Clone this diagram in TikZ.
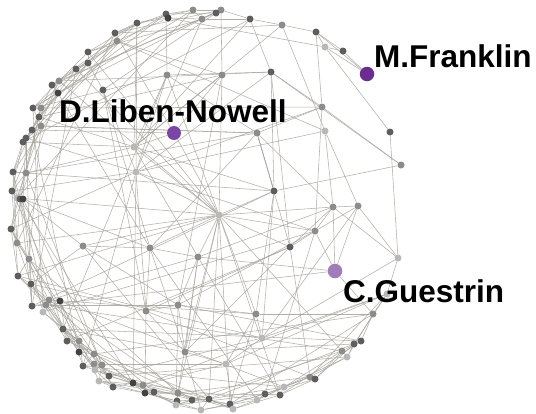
\documentclass[tikz,border=0pt]{standalone}
\usepackage{fontspec}
\setmainfont{Liberation Sans}
\pgfdeclarelayer{bg}
\pgfsetlayers{bg,main}
\definecolor{nd}{HTML}{5E5E5E}
\definecolor{nm}{HTML}{8C8C8C}
\definecolor{nl}{HTML}{B8B8B8}
\definecolor{nk}{HTML}{424242}
\definecolor{edgec}{HTML}{A6A29A}
\definecolor{pfr}{HTML}{6B2D90}
\definecolor{plib}{HTML}{7A46A3}
\definecolor{pgue}{HTML}{A07CBB}
\tikzset{
  dot/.style={circle,inner sep=0pt,minimum size=7pt,draw=none},
  bigdot/.style={circle,inner sep=0pt,minimum size=14.5pt,draw=none},
  edge/.style={draw=edgec,line width=0.55pt,opacity=0.85},
  lbl/.style={inner sep=0pt,anchor=base west,font=\bfseries\fontsize{31.5}{36}\selectfont,text=black}
}
\begin{document}
\begin{tikzpicture}[x=1pt,y=-1pt]
\useasboundingbox (0,0) rectangle (536,413);
% rim nodes
\foreach \n/\x/\y/\c in {1/250/19/nd,2/221/10/nm,3/216/13/nd,4/202/19/nm,5/193/10/nm,6/166/14/nd,7/168/18/nk,8/137/23/nd,9/115/33/nd,10/117/41/nm,
11/88/52/nd,12/88/63/nd,13/76/69/nd,14/59/81/nm,15/52/85/nd,16/58/93/nk,17/33/108/nd,18/41/108/nm,19/39/117/nd,20/41/126/nm,
21/32/130/nd,22/26/138/nd,23/23/142/nd,24/13/172/nd,25/26/173/nm,26/12/191/nd,27/17/198/nl,28/20/199/nd,29/23/199/nk,30/11/229/nd,
31/17/243/nm,32/29/259/nm,33/18/276/nd,34/31/284/nd,35/32/306/nd,36/46/305/nm,37/49/300/nm,38/60/301/nk,39/43/312/nl,40/63/329/nd,
41/67/341/nd,42/79/341/nm,43/79/352/nk,44/94/354/nm,45/83/366/nd,46/94/364/nm,47/102/365/nm,48/95/370/nl,49/109/376/nd,50/99/381/nl,
51/113/387/nd,52/133/383/nk,53/143/385/nm,54/145/393/nk,55/154/392/nd,56/178/393/nm,57/177/401/nd,58/176/405/nl,59/192/400/nd,60/209/399/nd,
61/201/410/nl,62/230/404/nd,63/233/409/nl,64/257/400/nl,65/265/394/nd,66/280/395/nd,67/284/387/nl,68/310/377/nm,69/315/379/nd,70/342/351/nm,
71/347/357/nl,72/354/344/nd,73/361/341/nd,74/373/314/nm,75/387/294/nl,76/398/258/nl,77/401/165/nm,78/390/132/nd,80/343/51/nd,81/325/47/nl,
82/316/32/nd,83/282/25/nm}
  \node[dot,fill=\c] (r\n) at (\x,\y) {};
% interior nodes
\foreach \n/\x/\y/\c in {1/271/72/nd,2/222/75/nm,3/167/75/nm,4/103/90/nd,6/257/133/nm,7/134/147/nl,8/136/172/nl,9/322/107/nm,10/325/131/nl,
11/274/191/nd,12/219/215/nl,13/333/207/nm,14/358/206/nm,15/315/231/nm,16/290/247/nd,18/83/246/nm,19/150/248/nm,20/198/257/nm,
21/146/311/nm,22/178/305/nm,23/256/314/nm,24/262/338/nl,25/185/352/nm,26/226/364/nl}
  \node[dot,fill=\c] (c\n) at (\x,\y) {};
\node[bigdot,fill=pfr] (fr) at (367,74) {};
\node[bigdot,minimum size=14pt,fill=plib] (lib) at (174,133) {};
\node[bigdot,fill=pgue] (gue) at (335,271) {};
\begin{pgfonlayer}{bg}
% rim band
\foreach \i in {1,...,74}{
  \foreach \h in {1,3}{
    \pgfmathtruncatemacro\j{\i+\h}
    \ifnum\j<76 \draw[edge] (r\i) -- (r\j);\fi
  }
  \pgfmathtruncatemacro\m{mod(\i,2)}
  \ifnum\m=0
    \foreach \h in {7,12}{
      \pgfmathtruncatemacro\j{\i+\h}
      \ifnum\j<76 \draw[edge] (r\i) -- (r\j);\fi
    }
  \fi
  \pgfmathtruncatemacro\q{mod(\i,4)}
  \ifnum\q=1
    \pgfmathtruncatemacro\j{\i+22}
    \ifnum\j<76 \draw[edge] (r\i) -- (r\j);\fi
  \fi
}
% right side, top right and interior
\foreach \a/\b in {fr/r80,fr/r81,fr/r82,r80/r82,r80/r81,r81/r82,r81/r78,r82/r83,r83/r9,r7/r81,r83/r1,r78/r76,r77/c11,r76/r75,
  c1/r1,c1/c9,c1/r77,c1/c8,c1/c11,c1/c16,c1/c3,c1/r14,
  c2/r19,c2/lib,c2/c12,c2/c22,c2/r2,c2/c7,
  c3/r6,c3/c7,c3/c8,c3/r17,c3/c12,c3/r40,
  c4/r12,c4/c8,c4/c19,c4/r3,c4/c21,
  lib/r21,lib/c7,lib/c12,lib/r9,
  c6/r20,c6/c11,c6/c16,c6/c13,c6/c3,c6/r25,c6/c19,
  c7/r8,c7/r1,c7/r25,c7/c12,c7/r23,c7/c20,c7/r83,
  c8/r8,c8/c21,c8/c12,c8/r30,c8/r26,c8/c15,c8/r52,c8/r45,
  c9/r82,c9/c6,c9/r18,c9/c8,c9/c15,c9/r77,
  c10/c13,c10/c14,c10/c8,c10/r10,c10/r83,
  c11/c12,c11/r35,c11/c6,c11/c23,c11/r24,c11/c24,
  c12/r11,c12/r27,c12/r33,c12/r31,c12/c13,c12/c15,c12/c16,c12/c19,c12/c20,c12/c23,c12/c25,c12/r56,c12/r60,c12/r62,c12/r66,c12/r70,c12/c18,c12/r14,
  c13/c14,c13/c15,c13/gue,c13/r76,c13/c16,c13/c20,
  c14/gue,c14/r76,c14/c24,c14/c15,
  c15/c16,c15/c22,c15/r39,c15/gue,c15/r65,
  c16/c21,c16/r41,c16/c25,c16/r68,
  gue/r74,gue/c20,gue/r36,
  c18/r29,c18/c19,c18/r34,c18/r60,c18/c22,
  c19/c20,c19/c21,c19/r29,c19/c25,c19/r64,
  c20/c22,c20/c25,c20/r57,c20/r66,c20/r37,
  c21/c22,c21/c25,c21/r34,c21/r69,c21/r54,
  c22/c25,c22/c23,c22/r36,c22/r73,c22/r58,
  c23/c24,c23/c26,c23/r74,c23/r37,c23/r62,
  c24/c26,c24/r76,c24/r75,c24/r33,c24/r49,
  c25/c26,c25/r61,c25/r40,c25/r72,
  c26/r75,c26/r46,c26/r63,c26/r53,
  r20/c6,r22/c8,r16/c19,r10/c2,r4/c8,r5/r17,r2/r15,r36/r70,r38/r67,r40/r73,r44/r74,r32/r56,r28/r52,r19/c11,r13/c12}
  \draw[edge] (\a) -- (\b);
\end{pgfonlayer}
\node[lbl] (tfr) at (374,67) {M.Franklin};
\node[lbl] (tlib) at (59,122) {D.Liben-Nowell};
\node[lbl] (tgue) at (343,302) {C.Guestrin};
\end{tikzpicture}
\end{document}
